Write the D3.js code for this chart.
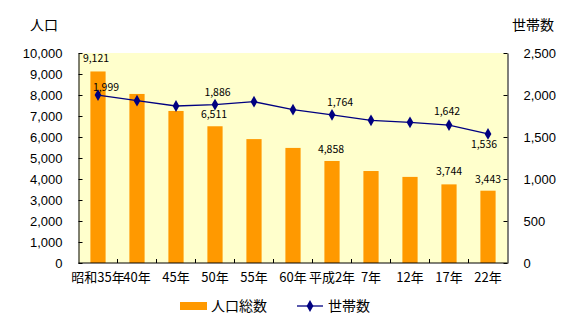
<!DOCTYPE html>
<html>
<head>
<meta charset="utf-8">
<script src="https://cdn.jsdelivr.net/npm/d3@7"></script>
<style>
  html, body { margin: 0; padding: 0; background: #fff; }
  svg { display: block; font-family: "Noto Sans CJK JP", "Noto Sans", sans-serif; }
</style>
</head>
<body>
<svg id="chart" width="565" height="329"></svg>
<script>
// Population and households by census year
const categories = ["昭和35年", "40年", "45年", "50年", "55年", "60年", "平成2年", "7年", "12年", "17年", "22年"];
const population = [9121, 8050, 7240, 6511, 5900, 5480, 4858, 4380, 4100, 3744, 3443];
const households = [1999, 1932, 1869, 1886, 1920, 1825, 1764, 1698, 1675, 1642, 1536];
const leftTicks = [0, 1000, 2000, 3000, 4000, 5000, 6000, 7000, 8000, 9000, 10000];
const rightTicks = [0, 500, 1000, 1500, 2000, 2500];
// indices with printed values
const popLabelIdx = [0, 3, 6, 9, 10];
const hhLabelIdx = [0, 3, 6, 9, 10];

const svg = d3.select("#chart");
const m = { left: 78.5, right: 507.5, top: 53, bottom: 263 };

const x = d3.scaleBand().domain(categories).range([m.left, m.right]).paddingInner(0).paddingOuter(0);
const yL = d3.scaleLinear().domain([0, 10000]).range([m.bottom, m.top]);
const yR = d3.scaleLinear().domain([0, 2500]).range([m.bottom, m.top]);
const fmt = d3.format(",");
const cx = i => x(categories[i]) + x.bandwidth() / 2;

// plot background
svg.append("rect")
  .attr("x", m.left).attr("y", m.top)
  .attr("width", m.right - m.left).attr("height", m.bottom - m.top)
  .attr("fill", "#FFFFCC");

// bars
const barW = x.bandwidth() * 0.39;
svg.append("g").selectAll("rect").data(population).join("rect")
  .attr("x", (d, i) => cx(i) - barW / 2)
  .attr("y", d => yL(d))
  .attr("width", barW)
  .attr("height", d => yL(0) - yL(d))
  .attr("fill", "#FF9900");

// axes
const axisStyle = g => {
  g.selectAll("path").attr("stroke", "#000").attr("stroke-width", 1);
  g.selectAll("line").attr("stroke", "#000");
  g.selectAll("text").attr("fill", "#000").attr("font-size", 13);
};

svg.append("g").attr("transform", `translate(${m.left},0)`)
  .call(d3.axisLeft(yL).tickValues(leftTicks).tickFormat(fmt).tickSizeInner(-4).tickSizeOuter(0).tickPadding(16))
  .call(axisStyle);

svg.append("g").attr("transform", `translate(${m.right},0)`)
  .call(d3.axisRight(yR).tickValues(rightTicks).tickFormat(fmt).tickSizeInner(-4).tickSizeOuter(0).tickPadding(16))
  .call(axisStyle);

// category axis: ticks sit between categories
const xAxis = svg.append("g").attr("transform", `translate(0,${m.bottom})`);
xAxis.append("line").attr("x1", m.left).attr("x2", m.right).attr("stroke", "#000");
xAxis.selectAll("line.tk").data(categories.slice(1)).join("line")
  .attr("class", "tk")
  .attr("x1", d => x(d)).attr("x2", d => x(d))
  .attr("y1", 0).attr("y2", -4).attr("stroke", "#000");
xAxis.selectAll("text").data(categories).join("text")
  .attr("x", (d, i) => cx(i))
  .attr("y", 19)
  .attr("text-anchor", "middle")
  .attr("font-size", 13)
  .attr("fill", "#000")
  .text(d => d);

// household line
const line = d3.line()
  .x((d, i) => cx(i))
  .y(d => yR(d));
svg.append("path").datum(households)
  .attr("d", line).attr("fill", "none").attr("stroke", "#000080").attr("stroke-width", 1.3);

const diamond = d3.symbol().type(d3.symbolDiamond).size(40);
svg.append("g").selectAll("path").data(households).join("path")
  .attr("d", diamond)
  .attr("transform", (d, i) => `translate(${cx(i)},${yR(d)})`)
  .attr("fill", "#000080");

// value labels
const labels = svg.append("g").attr("font-size", 10.5).attr("fill", "#000").attr("text-anchor", "middle");
const popDx = { 0: -2, 3: -1, 6: -1, 9: 0, 10: 0 };
const popDy = { 0: -9, 3: -8.5, 6: -8, 9: -9, 10: -8 };
popLabelIdx.forEach(i => {
  labels.append("text")
    .attr("x", cx(i) + popDx[i])
    .attr("y", yL(population[i]) + popDy[i])
    .text(fmt(population[i]));
});
const hhDx = { 0: 8, 3: 2.5, 6: 8, 9: -2, 10: -4 };
const hhDy = { 0: -4, 3: -9, 6: -9, 9: -10, 10: 14 };
hhLabelIdx.forEach(i => {
  labels.append("text")
    .attr("x", cx(i) + hhDx[i])
    .attr("y", yR(households[i]) + hhDy[i])
    .text(fmt(households[i]));
});

// axis titles
svg.append("text").attr("x", 44).attr("y", 30).attr("text-anchor", "middle").attr("font-size", 14).text("人口");
svg.append("text").attr("x", 533).attr("y", 30).attr("text-anchor", "middle").attr("font-size", 14).text("世帯数");

// legend
const lg = svg.append("g");
lg.append("rect").attr("x", 180).attr("y", 302).attr("width", 27).attr("height", 8).attr("fill", "#FF9900");
lg.append("text").attr("x", 211).attr("y", 311).attr("font-size", 14).text("人口総数");
lg.append("line").attr("x1", 297).attr("x2", 323).attr("y1", 306).attr("y2", 306).attr("stroke", "#000080").attr("stroke-width", 1.3);
lg.append("path").attr("d", diamond).attr("transform", "translate(310,306)").attr("fill", "#000080");
lg.append("text").attr("x", 328).attr("y", 311).attr("font-size", 14).text("世帯数");
</script>
</body>
</html>
